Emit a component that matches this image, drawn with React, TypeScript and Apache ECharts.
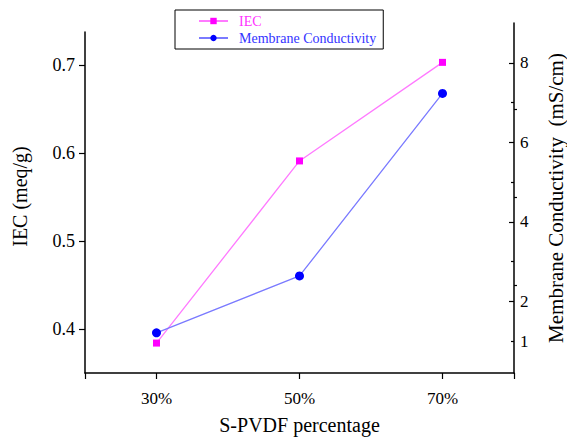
import React, { useEffect, useRef } from "react";
import * as echarts from "echarts";

const categories = [30, 50, 70];
const iecValues = [0.384, 0.591, 0.703];
const conductivityValues = [1.21, 2.64, 7.23];
const leftLabelValues = [0.4, 0.5, 0.6, 0.7];
const leftMajorTicks = [0.4, 0.5, 0.6, 0.7];
const leftMinorTicks = [0.45, 0.55, 0.65];
const rightLabelValues = [1, 2, 4, 6, 8];
const rightMajorTicks = [2, 4, 6, 8];
const rightMinorTicks = [1, 3, 5, 7];
const xLabelValues = [30, 50, 70];
const xMajorTicks = [20, 30, 50, 70, 80];
const xMinorTicks = [40, 60];

const FONT = "'Liberation Serif', 'DejaVu Serif', serif";
const PINK = "#ff00ff";
const PINK_LINE = "#ff7aff";
const BLUE = "#0000ff";
const BLUE_LINE = "#7a7aff";

export default function App() {
  const ref = useRef<HTMLDivElement>(null);
  useEffect(() => {
    if (!ref.current) return;
    const chart = echarts.init(ref.current, undefined, { renderer: "svg" });
    const axisLine = { show: true, lineStyle: { color: "#000", width: 1.5 } };
    chart.setOption({
      animation: false,
      backgroundColor: "#fff",
      grid: [
        { left: 85, right: 53, top: 32, bottom: 65, outerBoundsMode: "none", containLabel: false },
        { left: 85, right: 53, top: 23, bottom: 65, outerBoundsMode: "none", containLabel: false },
      ],
      legend: {
        orient: "vertical",
        left: 175,
        top: 10,
        padding: [4, 7, 4, 23],
        itemWidth: 29,
        itemHeight: 8,
        itemGap: 3,
        backgroundColor: "#fff",
        borderColor: "#000",
        borderWidth: 1,
        textStyle: { fontFamily: FONT, fontSize: 14, lineHeight: 12, padding: [0, 0, 0, 6] },
        data: [
          { name: "IEC", textStyle: { color: "#ff33ff" } },
          { name: "Membrane Conductivity", textStyle: { color: "#3333ff" } },
        ],
      },
      xAxis: [
        {
          type: "value",
          gridIndex: 0,
          min: 20,
          max: 80,
          splitLine: { show: false },
          axisLine,
          axisTick: { show: true, length: 6, customValues: xMajorTicks, lineStyle: { color: "#000", width: 1.2 } },
          axisLabel: {
            customValues: xLabelValues,
            formatter: "{value}%",
            margin: 17,
            color: "#000",
            fontFamily: FONT,
            fontSize: 17,
          },
          name: "S-PVDF percentage",
          nameLocation: "middle",
          nameGap: 42,
          nameTextStyle: { fontFamily: FONT, fontSize: 20, color: "#000" },
        },
        { type: "value", gridIndex: 1, min: 20, max: 80, show: false },
        {
          type: "value",
          gridIndex: 0,
          min: 20,
          max: 80,
          splitLine: { show: false },
          axisLine: { show: false },
          axisTick: { show: true, length: 3, customValues: xMinorTicks, lineStyle: { color: "#000", width: 1.2 } },
          axisLabel: { show: false },
        },
      ],
      yAxis: [
        {
          type: "value",
          gridIndex: 0,
          min: 0.35,
          max: 0.7375,
          splitLine: { show: false },
          axisLine,
          axisTick: { show: true, length: 6, customValues: leftMajorTicks, lineStyle: { color: "#000", width: 1.2 } },
          axisLabel: {
            customValues: leftLabelValues,
            formatter: (v: number) => v.toFixed(1),
            margin: 10,
            color: "#000",
            fontFamily: FONT,
            fontSize: 18,
          },
          name: "IEC (meq/g)",
          nameLocation: "middle",
          nameGap: 55,
          nameTextStyle: { fontFamily: FONT, fontSize: 20, color: "#000", padding: [0, 0, 0, 12] },
        },
        {
          type: "value",
          gridIndex: 1,
          position: "right",
          min: 0.2,
          max: 9,
          splitLine: { show: false },
          axisLine,
          axisTick: { show: true, inside: true, length: 5, customValues: rightMajorTicks, lineStyle: { color: "#000", width: 1.2 } },
          axisLabel: {
            customValues: rightLabelValues,
            margin: 6,
            color: "#000",
            fontFamily: FONT,
            fontSize: 17,
          },
          name: "Membrane Conductivity  (mS/cm)",
          nameLocation: "middle",
          nameGap: 31,
          nameTextStyle: { fontFamily: FONT, fontSize: 21, color: "#000" },
        },
        {
          type: "value",
          gridIndex: 1,
          position: "right",
          min: 0.2,
          max: 9,
          splitLine: { show: false },
          axisLine: { show: false },
          axisTick: { show: true, inside: true, length: 3, customValues: rightMinorTicks, lineStyle: { color: "#000", width: 1.2 } },
          axisLabel: { show: false },
        },
        {
          type: "value",
          gridIndex: 0,
          min: 0.35,
          max: 0.7375,
          splitLine: { show: false },
          axisLine: { show: false },
          axisTick: { show: true, length: 3, customValues: leftMinorTicks, lineStyle: { color: "#000", width: 1.2 } },
          axisLabel: { show: false },
        },
      ],
      series: [
        {
          name: "IEC",
          type: "line",
          xAxisIndex: 0,
          yAxisIndex: 0,
          data: categories.map((c, i) => [c, iecValues[i]]),
          symbol: "rect",
          symbolSize: 7,
          lineStyle: { color: PINK_LINE, width: 1.3 },
          itemStyle: { color: PINK },
        },
        {
          name: "Membrane Conductivity",
          type: "line",
          xAxisIndex: 1,
          yAxisIndex: 1,
          data: categories.map((c, i) => [c, conductivityValues[i]]),
          symbol: "circle",
          symbolSize: 9,
          lineStyle: { color: BLUE_LINE, width: 1.3 },
          itemStyle: { color: BLUE },
        },
      ],
    });
    return () => chart.dispose();
  }, []);
  return (
    <div
      ref={ref}
      style={{ position: "fixed", left: 0, top: 0, width: 567, height: 438 }}
    />
  );
}
